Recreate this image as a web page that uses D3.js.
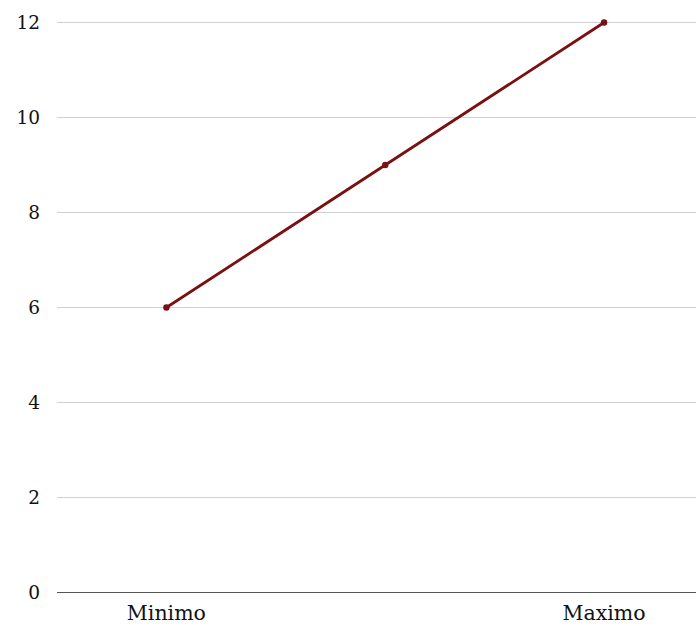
<!DOCTYPE html>
<html><head><meta charset="utf-8">
<script src="https://cdn.jsdelivr.net/npm/d3@7"></script>
<style>body{margin:0;background:#fff}svg{display:block}</style>
</head><body>
<script>
const categories = ["Minimo", "", "Maximo"];
const values = [6, 9, 12];
const yTicks = [0, 2, 4, 6, 8, 10, 12];

const W = 696, H = 626;
const mLeft = 57, mTop = 22.5, mBottom = 592.5;
const svg = d3.select("body").append("svg").attr("width", W).attr("height", H);
const font = "'DejaVu Serif', serif";

const x = d3.scaleBand().domain(d3.range(categories.length)).range([mLeft, 713.5]);
const y = d3.scaleLinear().domain([0, 12]).range([mBottom, mTop]);
const cx = i => x(i) + x.bandwidth() / 2;

svg.append("g").selectAll("line").data(yTicks.filter(d => d > 0)).join("line")
  .attr("x1", mLeft).attr("x2", W).attr("y1", d => y(d)).attr("y2", d => y(d))
  .attr("stroke", "#d0d0d0").attr("stroke-width", 1);
svg.append("line").attr("x1", mLeft).attr("x2", W).attr("y1", y(0)).attr("y2", y(0))
  .attr("stroke", "#555").attr("stroke-width", 1);

svg.append("g").selectAll("text").data(yTicks).join("text")
  .attr("x", 40).attr("y", d => y(d)).attr("dy", "0.35em").attr("text-anchor", "end")
  .style("font-family", font).style("font-size", "18.5px").attr("fill", "#111").text(d => d);

svg.append("g").selectAll("text").data(categories).join("text")
  .attr("x", (d, i) => cx(i)).attr("y", 620).attr("text-anchor", "middle")
  .style("font-family", font).style("font-size", "20.5px").attr("fill", "#111").text(d => d);

const line = d3.line().x((d, i) => cx(i)).y(d => y(d));
svg.append("path").datum(values).attr("d", line).attr("fill", "none")
  .attr("stroke", "#7a1012").attr("stroke-width", 2.8);
svg.append("g").selectAll("circle").data(values).join("circle")
  .attr("cx", (d, i) => cx(i)).attr("cy", d => y(d)).attr("r", 3.2).attr("fill", "#7a1012");
</script>
</body></html>
